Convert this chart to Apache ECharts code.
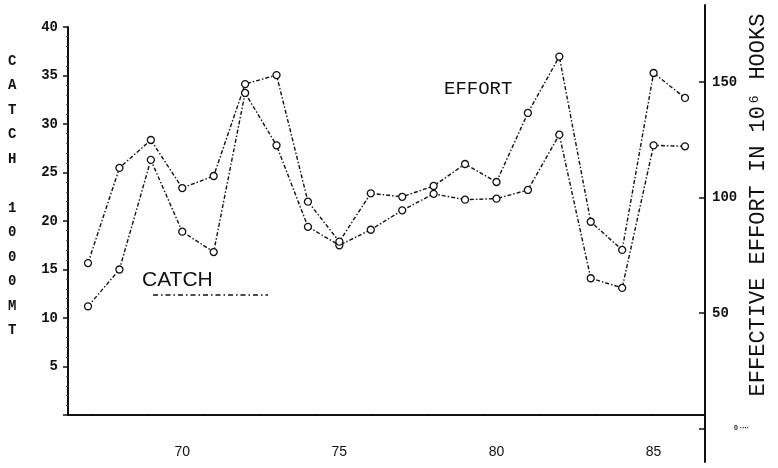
<!DOCTYPE html>
<html>
<head>
<meta charset="utf-8">
<script src="https://cdn.jsdelivr.net/npm/echarts@6/dist/echarts.min.js"></script>
<style>
  html, body { margin: 0; padding: 0; background: #fff; }
  #chart { width: 778px; height: 468px; }
</style>
</head>
<body>
<div id="chart"></div>
<script>
// Fishing seasons (two-digit years)
const years = [67, 68, 69, 70, 71, 72, 73, 74, 75, 76, 77, 78, 79, 80, 81, 82, 83, 84, 85, 86];
// Catch, in 1000 metric tons (left axis)
const catchValues = [11.2, 15.0, 26.3, 18.9, 16.8, 33.2, 27.8, 19.4, 17.5, 19.1, 21.1, 22.8, 22.2, 22.3, 23.2, 28.9, 14.1, 13.1, 27.8, 27.7];
// Effective effort, in millions of hooks (right axis)
const effortValues = [71.6, 112.8, 124.9, 104.1, 109.3, 149.1, 153.0, 98.2, 80.9, 101.8, 100.3, 105.0, 114.5, 106.7, 136.6, 161.0, 89.5, 77.3, 153.9, 143.1];

const yearTicks = [70, 75, 80, 85];
const effortTicks = [0, 50, 100, 150];

const leftTitle = 'CATCH 1000MT';
const rightTitle = 'EFFECTIVE EFFORT IN 10\u2076 HOOKS';

const INK = '#111';
const dashDot = [4, 2, 1.5, 2];

const chart = echarts.init(document.getElementById('chart'), null, { renderer: 'canvas' });

const xRange = { min: 66.3635, max: 86.6365 };

const markerStyle = { color: '#fff', borderColor: INK, borderWidth: 1.3 };

const option = {
  backgroundColor: '#fff',
  animation: false,
  grid: [
    { left: 68, right: 73, top: 27, bottom: 53 },
    { left: 68, right: 73, top: 5, bottom: 6 }
  ],
  xAxis: [
    {
      type: 'value', gridIndex: 0, min: xRange.min, max: xRange.max,
      splitLine: { show: false },
      axisLine: { show: true, lineStyle: { color: INK, width: 2, type: [6, 1] } },
      axisTick: { show: false },
      axisLabel: {
        customValues: yearTicks, margin: 30,
        color: INK, fontFamily: 'Liberation Sans', fontSize: 14
      }
    },
    {
      type: 'value', gridIndex: 1, min: xRange.min, max: xRange.max, show: false
    }
  ],
  yAxis: [
    {
      type: 'value', gridIndex: 0, position: 'left', min: 0, max: 40, interval: 5,
      splitLine: { show: false },
      axisLine: { show: true, lineStyle: { color: INK, width: 2 } },
      axisTick: { show: true, length: 5, lineStyle: { color: INK, width: 1.5 } },
      minorTick: { show: true, splitNumber: 5, length: 2, lineStyle: { color: '#555', width: 1 } },
      axisLabel: {
        showMinLabel: false, margin: 10,
        color: INK, fontFamily: 'Liberation Mono', fontWeight: 'bold', fontSize: 14
      }
    },
    {
      type: 'value', gridIndex: 1, position: 'right', min: -14.5, max: 183.33,
      splitLine: { show: false },
      axisLine: { show: true, lineStyle: { color: INK, width: 2 } },
      axisTick: { show: true, inside: true, length: 6, customValues: effortTicks, lineStyle: { color: INK, width: 1.5 } },
      axisLabel: {
        customValues: effortTicks, margin: 7,
        color: INK, fontFamily: 'Liberation Mono', fontWeight: 'bold', fontSize: 14,
        formatter: v => (v === 0 ? '{s|0 \u00b7\u00b7\u00b7\u00b7}' : String(v)),
        rich: { s: { fontSize: 7, padding: [0, 0, 0, 22], color: INK, fontFamily: 'Liberation Sans' } }
      }
    }
  ],
  series: [
    {
      name: 'CATCH', type: 'line', xAxisIndex: 0, yAxisIndex: 0,
      data: years.map((y, i) => [y, catchValues[i]]),
      symbol: 'circle', symbolSize: 7, showSymbol: true,
      itemStyle: markerStyle,
      lineStyle: { color: INK, width: 1.4, type: dashDot }
    },
    {
      name: 'EFFORT', type: 'line', xAxisIndex: 1, yAxisIndex: 1,
      data: years.map((y, i) => [y, effortValues[i]]),
      symbol: 'circle', symbolSize: 7, showSymbol: true,
      itemStyle: markerStyle,
      lineStyle: { color: INK, width: 1.4, type: dashDot }
    }
  ],
  graphic: [
    {
      type: 'text', left: 8, top: 49,
      style: {
        text: leftTitle.split('').join('\n'),
        fill: INK, font: 'bold 14px "Liberation Mono"', lineHeight: 24.5, textAlign: 'center'
      }
    },
    {
      type: 'text', x: 758, y: 205, rotation: Math.PI / 2,
      style: {
        text: rightTitle, fill: INK, font: '22px "Liberation Mono"',
        align: 'center', verticalAlign: 'middle'
      }
    },
    {
      type: 'text', x: 142, y: 280,
      style: { text: 'CATCH', fill: INK, font: '21px "Liberation Sans"', verticalAlign: 'middle' }
    },
    {
      type: 'line', shape: { x1: 153, y1: 295, x2: 268, y2: 295 },
      style: { stroke: INK, lineWidth: 1.3, lineDash: [5, 3, 1.5, 3] }
    },
    {
      type: 'text', x: 444, y: 89,
      style: { text: 'EFFORT', fill: INK, font: '19px "Liberation Mono"', verticalAlign: 'middle' }
    }
  ]
};

chart.setOption(option);
</script>
</body>
</html>
